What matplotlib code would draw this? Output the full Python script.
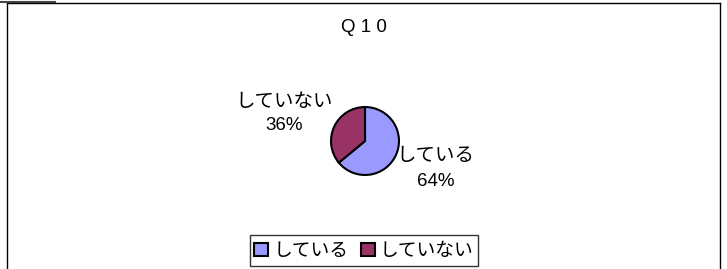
import matplotlib.pyplot as plt
from matplotlib.lines import Line2D

plt.rcParams['font.family'] = ['Noto Sans CJK JP', 'DejaVu Sans']

labels = ['している', 'していない']
values = [64, 36]
colors = ['#9999FF', '#993366']
title = 'Q 1 0'

W, H = 727, 269
fig = plt.figure(figsize=(W / 100, H / 100), dpi=100)

# outer frame (bottom edge runs off the picture)
fig.add_artist(Line2D([7 / W, 720 / W], [1 - 3 / H, 1 - 3 / H], color='black', lw=1))
fig.add_artist(Line2D([7 / W, 7 / W], [0, 1 - 3 / H], color='black', lw=1))
fig.add_artist(Line2D([720 / W, 720 / W], [0, 1 - 3 / H], color='black', lw=1))
fig.add_artist(Line2D([0, 55 / W], [1 - 1.5 / H, 1 - 1.5 / H], color='#444444', lw=1.5))

fig.text(364 / W, 1 - 28 / H, title, ha='center', va='center', fontsize=13.5,
         family='Liberation Sans')

cx, cy, r = 365, 141, 35
ax = fig.add_axes([(cx - r) / W, 1 - (cy + r) / H, 2 * r / W, 2 * r / H])
wedges, _ = ax.pie(values, colors=colors, startangle=90, counterclock=False,
                   wedgeprops=dict(edgecolor='black', linewidth=1.5))
ax.set_xlim(-1.03, 1.03)
ax.set_ylim(-1.03, 1.03)
ax.axis('off')

fig.text(284 / W, 1 - 102 / H, labels[1], ha='center', va='center', fontsize=14)
fig.text(284 / W, 1 - 126 / H, f'{values[1]}%', ha='center', va='center', fontsize=13.5,
         family='Liberation Sans')
fig.text(435 / W, 1 - 155 / H, labels[0], ha='center', va='center', fontsize=14)
fig.text(436 / W, 1 - 181 / H, f'{values[0]}%', ha='center', va='center', fontsize=13.5,
         family='Liberation Sans')

leg = fig.legend(wedges, labels, loc='center', bbox_to_anchor=(364 / W, 1 - 250.5 / H),
                 ncol=2, fontsize=13.5, frameon=True, fancybox=False, edgecolor='black',
                 handlelength=0.75, handleheight=0.75, handletextpad=0.25, columnspacing=0.7,
                 borderpad=0.25, borderaxespad=0)
leg.get_frame().set_linewidth(1)

fig.savefig('out.png', dpi=100)
